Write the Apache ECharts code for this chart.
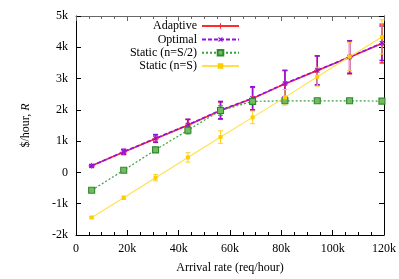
<!DOCTYPE html>
<html><head><meta charset="utf-8">
<script src="https://cdn.jsdelivr.net/npm/echarts@6/dist/echarts.min.js"></script>
<style>html,body{margin:0;padding:0;background:#fff}#c{width:399px;height:279px}</style>
</head><body><div id="c"></div>
<script>
// Arrival rate (k req/hour)
const xs = [6.1, 18.6, 31.0, 43.6, 56.3, 68.8, 81.4, 94.0, 106.6, 119.2];
// $/hour (thousands)
const adaptive    = [0.21, 0.65, 1.08, 1.51, 1.98, 2.36, 2.83, 3.26, 3.68, 4.12];
const adaptiveErr = [0.03, 0.08, 0.12, 0.18, 0.27, 0.36, 0.43, 0.47, 0.53, 0.62];
const optimal     = [0.21, 0.66, 1.09, 1.52, 1.99, 2.37, 2.84, 3.26, 3.69, 4.13];
const optimalErr  = [0.03, 0.08, 0.12, 0.18, 0.28, 0.37, 0.42, 0.46, 0.52, 0.55];
const staticHalf    = [-0.57, 0.07, 0.72, 1.35, 1.98, 2.27, 2.29, 2.29, 2.29, 2.28];
const staticHalfErr = [0.03, 0.04, 0.08, 0.12, 0.15, 0.06, 0.04, 0.04, 0.04, 0.04];
const staticFull    = [-1.44, -0.81, -0.17, 0.48, 1.13, 1.76, 2.40, 3.06, 3.70, 4.33];
const staticFullErr = [0.03, 0.05, 0.10, 0.15, 0.20, 0.20, 0.25, 0.30, 0.45, 0.55];
const seriesNames = ['Adaptive', 'Optimal', 'Static (n=S/2)', 'Static (n=S)'];
const xTicks = [0, 20, 40, 60, 80, 100, 120];
const yTicks = [-2, -1, 0, 1, 2, 3, 4, 5];

const FONT = '"Liberation Serif", "DejaVu Serif", serif';
const colors = ['#ff2a2a', '#9010e0', '#2e962e', '#ffd21e'];
const plusPath = 'path://M4,0h2v4h4v2h-4v4h-2v-4h-4v-2h4z';

function errSeries(name, color, vals, errs, lw) {
  return {
    type: 'custom', name: name + ' err', clip: true, silent: true,
    encode: { x: 0, y: [1, 2] },
    data: xs.map((x, i) => [x, vals[i] - errs[i], vals[i] + errs[i]]),
    renderItem(params, api) {
      const x = api.value(0);
      const lo = api.coord([x, api.value(1)]);
      const hi = api.coord([x, api.value(2)]);
      const w = 2.5;
      const st = { stroke: color, lineWidth: lw };
      return { type: 'group', children: [
        { type: 'line', shape: { x1: lo[0], y1: lo[1], x2: hi[0], y2: hi[1] }, style: st },
        { type: 'line', shape: { x1: lo[0] - w, y1: lo[1], x2: lo[0] + w, y2: lo[1] }, style: st },
        { type: 'line', shape: { x1: hi[0] - w, y1: hi[1], x2: hi[0] + w, y2: hi[1] }, style: st }
      ]};
    }
  };
}
function pts(vals) { return xs.map((x, i) => [x, vals[i]]); }

const chart = echarts.init(document.getElementById('c'), null, { renderer: 'canvas' });
const legendCenters = [26, 39.5, 52.8, 66];
const option = {
  animation: false,
  textStyle: { fontFamily: FONT },
  grid: { left: 76, right: 15, top: 16, bottom: 42 },
  legend: seriesNames.map((n, i) => ({
    data: [n], orient: 'vertical', align: 'right', right: 159, top: legendCenters[i] - 7,
    itemWidth: 37, itemHeight: 7, padding: 0, selectedMode: false,
    textStyle: { fontFamily: FONT, fontSize: 12, color: '#000', lineHeight: 14 }
  })),
  xAxis: [{
    type: 'value', min: 0, max: 120, interval: 20,
    name: 'Arrival rate (req/hour)', nameLocation: 'middle', nameGap: 27,
    nameTextStyle: { fontFamily: FONT, fontSize: 12, color: '#000' },
    axisLine: { show: true, onZero: false, lineStyle: { color: '#000', width: 1 } },
    axisTick: { inside: true, length: 5, lineStyle: { color: '#000' } },
    minorTick: { show: true, splitNumber: 4, length: 3, lineStyle: { color: '#000' } },
    splitLine: { show: false },
    axisLabel: { fontFamily: FONT, fontSize: 12, color: '#000', margin: 8,
      formatter: v => xTicks.includes(v) ? (v === 0 ? '0' : v + 'k') : '' }
  }, {
    type: 'value', min: 0, max: 120, interval: 20, position: 'top',
    axisLine: { show: true, onZero: false, lineStyle: { color: '#666', width: 1 } },
    axisTick: { inside: true, length: 5, lineStyle: { color: '#666' } },
    minorTick: { show: true, splitNumber: 4, length: 3, lineStyle: { color: '#666' } },
    splitLine: { show: false }, axisLabel: { show: false }
  }],
  yAxis: [{
    type: 'value', min: -2, max: 5, interval: 1,
    name: '$/hour, {i|R}', nameLocation: 'middle', nameGap: 44, nameRotate: 90,
    nameTextStyle: { fontFamily: FONT, fontSize: 12, color: '#000',
      rich: { i: { fontFamily: FONT, fontSize: 12, fontStyle: 'italic', color: '#000' } } },
    axisLine: { show: true, onZero: false, lineStyle: { color: '#000', width: 1 } },
    axisTick: { inside: true, length: 5, lineStyle: { color: '#000' } },
    splitLine: { show: false },
    axisLabel: { fontFamily: FONT, fontSize: 12, color: '#000', margin: 8,
      formatter: v => yTicks.includes(v) ? (v === 0 ? '0' : v + 'k') : '' }
  }, {
    type: 'value', min: -2, max: 5, interval: 1, position: 'right',
    axisLine: { show: true, onZero: false, lineStyle: { color: '#000', width: 1 } },
    axisTick: { inside: true, length: 5, lineStyle: { color: '#000' } },
    splitLine: { show: false }, axisLabel: { show: false }
  }],
  series: [
    errSeries('Adaptive', colors[0], adaptive, adaptiveErr, 1.5),
    { type: 'line', name: 'Adaptive', data: pts(adaptive), symbol: plusPath, symbolSize: 6,
      color: colors[0], lineStyle: { color: colors[0], width: 1.6 }, itemStyle: { color: colors[0] } },
    errSeries('Optimal', colors[1], optimal, optimalErr, 1.5),
    { type: 'line', name: 'Optimal', data: pts(optimal), symbol: plusPath, symbolRotate: 45, symbolSize: 6,
      color: colors[1], lineStyle: { color: colors[1], width: 1.6, type: [4, 2] }, itemStyle: { color: colors[1] } },
    errSeries('Static (n=S/2)', colors[2], staticHalf, staticHalfErr, 1),
    { type: 'line', name: 'Static (n=S/2)', data: pts(staticHalf), symbol: 'rect', symbolSize: 6,
      color: colors[2], lineStyle: { color: '#3aa03a', width: 1.2, type: [2, 2] },
      itemStyle: { color: '#74bb60', borderColor: '#2e8a2e', borderWidth: 1.1 } },
    errSeries('Static (n=S)', colors[3], staticFull, staticFullErr, 1),
    { type: 'line', name: 'Static (n=S)', data: pts(staticFull), symbol: 'rect', symbolSize: 4,
      color: colors[3], lineStyle: { color: '#ffe04a', width: 1.1 }, itemStyle: { color: '#ffcc00' } }
  ]
};
chart.setOption(option);
</script></body></html>
